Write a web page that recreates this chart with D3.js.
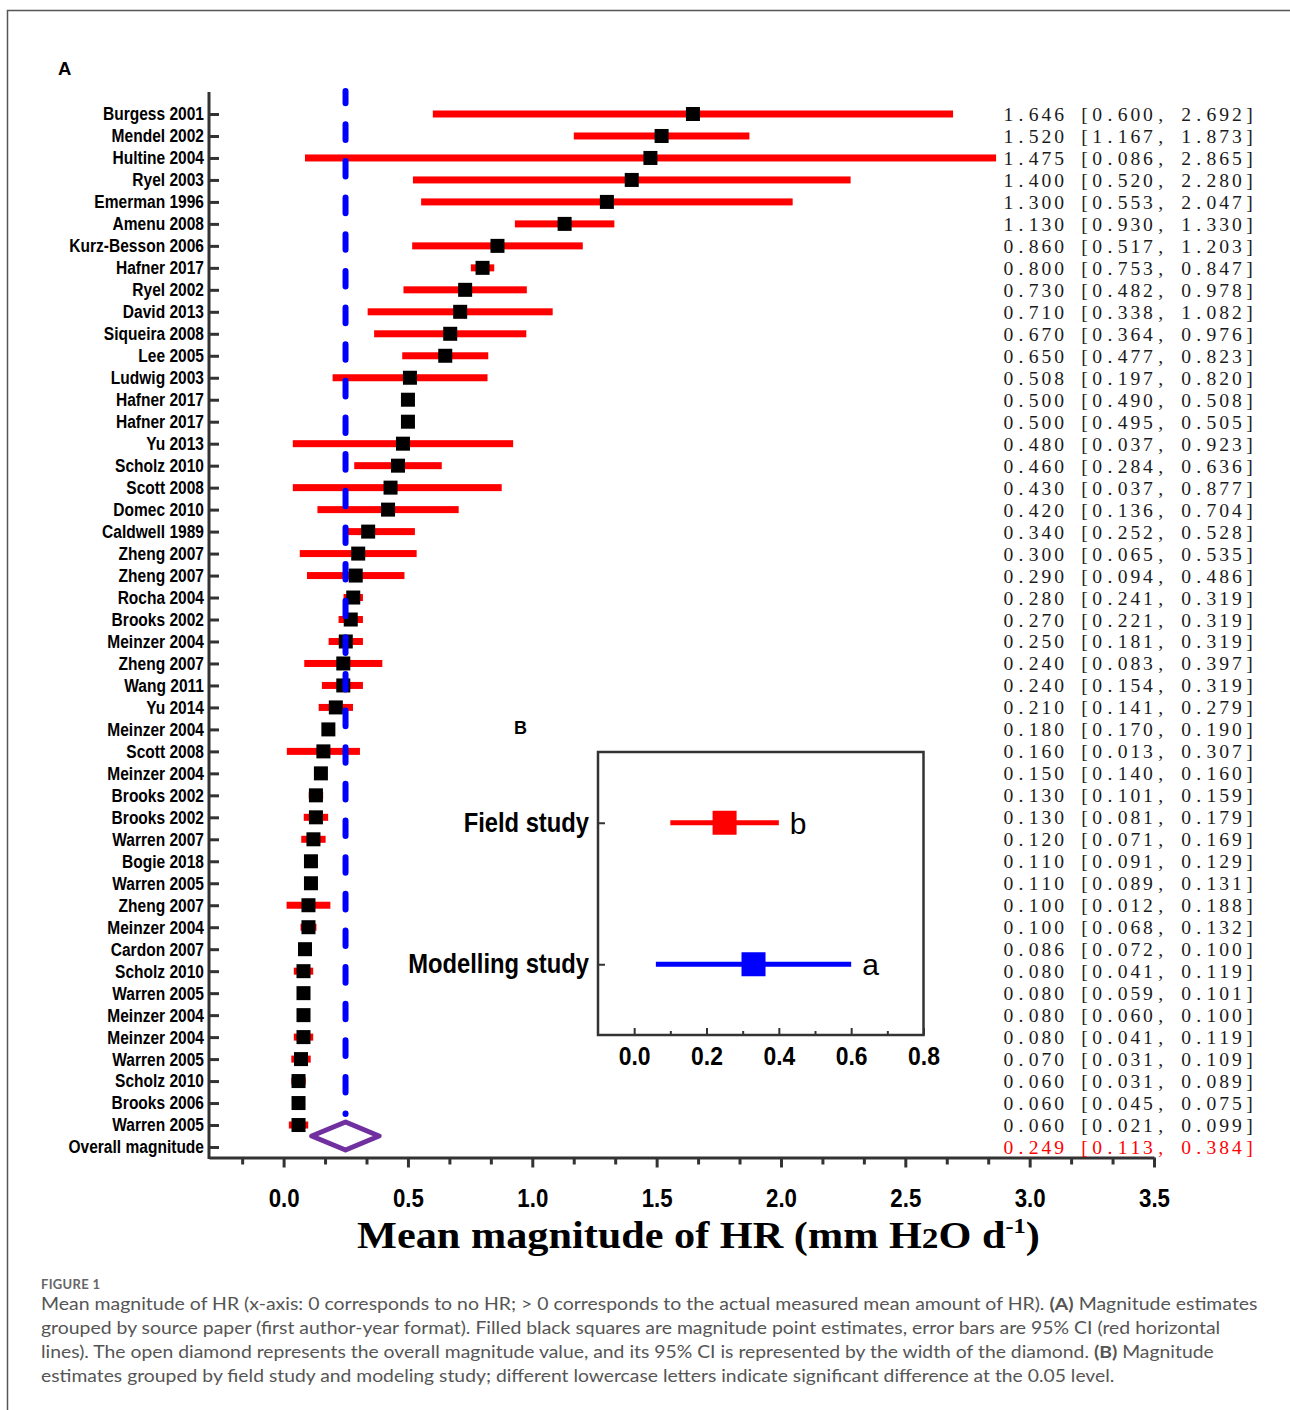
<!DOCTYPE html>
<html>
<head>
<meta charset="utf-8">
<script src="https://cdn.jsdelivr.net/npm/d3@7"></script>
<style>
  body { margin: 0; background: #fff; }
  svg { display: block; }
</style>
</head>
<body>
<svg id="fig" width="1290" height="1410"></svg>
<script>
// ---- panel A data (studies, top to bottom) ----
const studies = ["Burgess 2001", "Mendel 2002", "Hultine 2004", "Ryel 2003", "Emerman 1996", "Amenu 2008",
  "Kurz-Besson 2006", "Hafner 2017", "Ryel 2002", "David 2013", "Siqueira 2008", "Lee 2005", "Ludwig 2003",
  "Hafner 2017", "Hafner 2017", "Yu 2013", "Scholz 2010", "Scott 2008", "Domec 2010", "Caldwell 1989",
  "Zheng 2007", "Zheng 2007", "Rocha 2004", "Brooks 2002", "Meinzer 2004", "Zheng 2007", "Wang 2011",
  "Yu 2014", "Meinzer 2004", "Scott 2008", "Meinzer 2004", "Brooks 2002", "Brooks 2002", "Warren 2007",
  "Bogie 2018", "Warren 2005", "Zheng 2007", "Meinzer 2004", "Cardon 2007", "Scholz 2010", "Warren 2005",
  "Meinzer 2004", "Meinzer 2004", "Warren 2005", "Scholz 2010", "Brooks 2006", "Warren 2005"];
const means = [1.646, 1.520, 1.475, 1.400, 1.300, 1.130, 0.860, 0.800, 0.730, 0.710, 0.670, 0.650, 0.508,
  0.500, 0.500, 0.480, 0.460, 0.430, 0.420, 0.340, 0.300, 0.290, 0.280, 0.270, 0.250, 0.240, 0.240, 0.210,
  0.180, 0.160, 0.150, 0.130, 0.130, 0.120, 0.110, 0.110, 0.100, 0.100, 0.086, 0.080, 0.080, 0.080, 0.080,
  0.070, 0.060, 0.060, 0.060];
const lower = [0.600, 1.167, 0.086, 0.520, 0.553, 0.930, 0.517, 0.753, 0.482, 0.338, 0.364, 0.477, 0.197,
  0.490, 0.495, 0.037, 0.284, 0.037, 0.136, 0.252, 0.065, 0.094, 0.241, 0.221, 0.181, 0.083, 0.154, 0.141,
  0.170, 0.013, 0.140, 0.101, 0.081, 0.071, 0.091, 0.089, 0.012, 0.068, 0.072, 0.041, 0.059, 0.060, 0.041,
  0.031, 0.031, 0.045, 0.021];
const upper = [2.692, 1.873, 2.865, 2.280, 2.047, 1.330, 1.203, 0.847, 0.978, 1.082, 0.976, 0.823, 0.820,
  0.508, 0.505, 0.923, 0.636, 0.877, 0.704, 0.528, 0.535, 0.486, 0.319, 0.319, 0.319, 0.397, 0.319, 0.279,
  0.190, 0.307, 0.160, 0.159, 0.179, 0.169, 0.129, 0.131, 0.188, 0.132, 0.100, 0.119, 0.101, 0.100, 0.119,
  0.109, 0.089, 0.075, 0.099];
const overallLabel = "Overall magnitude";
const overallMean = 0.249, overallLower = 0.113, overallUpper = 0.384;
const xTicksA = [0, 0.5, 1.0, 1.5, 2.0, 2.5, 3.0, 3.5];

// ---- panel B data ----
const groupLabels = ["Field study", "Modelling study"];
const groupMeans = [0.25, 0.33];
const groupLower = [0.10, 0.06];
const groupUpper = [0.40, 0.60];
const groupLetters = ["b", "a"];
const groupColors = ["#ff0000", "#0000ff"];
const xTicksB = [0, 0.2, 0.4, 0.6, 0.8];

const svg = d3.select("#fig");
const AX = "#333";
const SANS = "'Liberation Sans', Arial, sans-serif";
const SERIF = "'Liberation Serif', 'Times New Roman', serif";
const SQZ = 0.84; // narrow-font look

// page frame
svg.append("path").attr("d", "M7.5,1410V10.5H1290")
  .attr("fill", "none").attr("stroke", "#555").attr("stroke-width", 1.5);

// ================= panel A =================
const rows = studies.concat([overallLabel]);
const idx = d3.range(rows.length);
const x = d3.scaleLinear().domain([-0.3, 3.5]).range([209, 1154]);
const y = d3.scalePoint().domain(idx).range([114, 1147]);
const si = d3.range(studies.length);

svg.append("text").attr("x", 58).attr("y", 75).text("A")
  .attr("font-family", SANS).attr("font-weight", "bold").attr("font-size", 18.5);

// error bars
svg.append("g").selectAll("rect").data(si).join("rect")
  .attr("x", i => x(lower[i])).attr("width", i => x(upper[i]) - x(lower[i]))
  .attr("y", i => y(i) - 3.5).attr("height", 7).attr("fill", "#ff0000");

// point estimates
svg.append("g").selectAll("rect").data(si).join("rect")
  .attr("x", i => x(means[i]) - 7).attr("y", i => y(i) - 7)
  .attr("width", 14).attr("height", 14).attr("fill", "#000");

// overall reference line
svg.append("line")
  .attr("x1", x(overallMean)).attr("x2", x(overallMean))
  .attr("y1", y(0) - 23).attr("y2", y(rows.length - 1) - 33)
  .attr("stroke", "#0000ff").attr("stroke-width", 6).attr("stroke-linecap", "round")
  .attr("stroke-dasharray", "15.6 21.04").attr("stroke-dashoffset", 3.3);

// overall diamond
const yc = y(rows.length - 1) - y.step() / 2;
svg.append("path")
  .attr("d", `M${x(overallLower)},${yc}L${x(overallMean)},${yc - 14}L${x(overallUpper)},${yc}L${x(overallMean)},${yc + 14}Z`)
  .attr("fill", "none").attr("stroke", "#7030a0").attr("stroke-width", 5).attr("stroke-linejoin", "round");

// y axis
const gy = svg.append("g").attr("transform", "translate(209,0)")
  .call(d3.axisLeft(y).tickSize(-10).tickPadding(5).tickFormat(i => rows[i]));
gy.select(".domain").remove();
gy.selectAll(".tick line").attr("stroke", AX).attr("stroke-width", 3);
gy.selectAll(".tick text")
  .attr("font-family", SANS).attr("font-weight", "bold").attr("font-size", 18.5).attr("fill", "#000")
  .attr("transform", `scale(${SQZ},1)`).attr("x", -5 / SQZ);
svg.append("line").attr("x1", 209).attr("x2", 209).attr("y1", 92).attr("y2", 1159)
  .attr("stroke", AX).attr("stroke-width", 3);

// x axis
const gx = svg.append("g").attr("transform", "translate(0,1157.5)")
  .call(d3.axisBottom(x).tickValues(xTicksA).tickSize(10).tickSizeOuter(0).tickPadding(20.5)
    .tickFormat(d3.format(".1f")));
gx.select(".domain").attr("stroke", AX).attr("stroke-width", 3);
gx.selectAll(".tick line").attr("stroke", AX).attr("stroke-width", 3);
gx.selectAll(".tick text")
  .attr("font-family", SANS).attr("font-weight", "bold").attr("font-size", 26.5).attr("fill", "#000")
  .attr("transform", `scale(${SQZ},1)`);
const minorA = d3.range(-1, 21).filter(k => k % 3 !== 0).map(k => k / 6);
const gxm = svg.append("g").attr("transform", "translate(0,1157.5)")
  .call(d3.axisBottom(x).tickValues(minorA).tickSize(7).tickFormat(""));
gxm.select(".domain").remove();
gxm.selectAll(".tick line").attr("stroke", AX).attr("stroke-width", 3);

// axis title (stretched to the reference width)
const title = svg.append("text").attr("x", 0).attr("y", 0).attr("text-anchor", "middle")
  .attr("font-family", SERIF).attr("font-weight", "bold")
  .attr("font-size", 38).attr("fill", "#000");
title.append("tspan").text("Mean magnitude of HR (mm H");
title.append("tspan").attr("font-size", 30).text("2");
title.append("tspan").text("O d");
title.append("tspan").attr("font-size", 22).attr("dy", -15).text("-1");
title.append("tspan").attr("dy", 15).text(")");
const tw = title.node().getBBox().width;
title.attr("transform", `translate(698.5,1248) scale(${683 / tw},1)`);

// estimate column text (fixed character grid)
const f3 = d3.format(".3f");
const estText = rows.map((r, i) => i < studies.length
  ? `${f3(means[i])} [${f3(lower[i])}, ${f3(upper[i])}]`
  : `${f3(overallMean)} [${f3(overallLower)}, ${f3(overallUpper)}]`);
svg.append("g").selectAll("text").data(idx).join("text")
  .attr("x", i => estText[i].split("").map((c, k) => (1008.3 + k * 12.7).toFixed(1)).join(" "))
  .attr("y", i => y(i) + 7)
  .attr("text-anchor", "middle")
  .attr("font-family", SERIF).attr("font-size", 19.6)
  .attr("fill", i => i < studies.length ? "#1a1a1a" : "#ff0000")
  .text(i => estText[i]);

// ================= panel B =================
const bx = d3.scaleLinear().domain([-0.1, 0.8]).range([598, 923.5]);
const by = d3.scalePoint().domain(groupLabels).range([752, 1035]).padding(0.5);

svg.append("text").attr("x", 514).attr("y", 733.5).text("B")
  .attr("font-family", SANS).attr("font-weight", "bold").attr("font-size", 18);

svg.append("rect").attr("x", 598).attr("y", 752).attr("width", 325.5).attr("height", 283)
  .attr("fill", "none").attr("stroke", AX).attr("stroke-width", 2.5);

const gb = d3.range(groupLabels.length);
svg.append("g").selectAll("rect").data(gb).join("rect")
  .attr("x", i => bx(groupLower[i])).attr("width", i => bx(groupUpper[i]) - bx(groupLower[i]))
  .attr("y", i => by(groupLabels[i]) - 2.5).attr("height", 5).attr("fill", i => groupColors[i]);
svg.append("g").selectAll("rect").data(gb).join("rect")
  .attr("x", i => bx(groupMeans[i]) - 12).attr("y", i => by(groupLabels[i]) - 12)
  .attr("width", 24).attr("height", 24).attr("fill", i => groupColors[i]);
svg.append("g").selectAll("text").data(gb).join("text")
  .attr("x", i => bx(groupUpper[i]) + 11).attr("y", i => by(groupLabels[i]) + 10.8)
  .attr("font-family", SANS).attr("font-size", 30).attr("fill", "#000")
  .text(i => groupLetters[i]);

const gby = svg.append("g").attr("transform", "translate(598,0)")
  .call(d3.axisLeft(by).tickSize(-7).tickPadding(9));
gby.select(".domain").remove();
gby.selectAll(".tick line").attr("stroke", AX).attr("stroke-width", 2);
gby.selectAll(".tick text")
  .attr("font-family", SANS).attr("font-weight", "bold").attr("font-size", 27).attr("fill", "#000")
  .attr("transform", "scale(0.88,1)").attr("x", -9 / 0.88);

const gbx = svg.append("g").attr("transform", "translate(0,1035)")
  .call(d3.axisBottom(bx).tickValues(xTicksB).tickSize(-7).tickPadding(11.7).tickFormat(d3.format(".1f")));
gbx.select(".domain").remove();
gbx.selectAll(".tick line").attr("stroke", AX).attr("stroke-width", 2);
gbx.selectAll(".tick text")
  .attr("font-family", SANS).attr("font-weight", "bold").attr("font-size", 26).attr("fill", "#000")
  .attr("transform", "scale(0.88,1)");
const gbm = svg.append("g").attr("transform", "translate(0,1035)")
  .call(d3.axisBottom(bx).tickValues([0.1, 0.3, 0.5, 0.7]).tickSize(-4).tickFormat(""));
gbm.select(".domain").remove();
gbm.selectAll(".tick line").attr("stroke", AX).attr("stroke-width", 2);

// ================= caption =================
svg.append("text").attr("x", 41).attr("y", 1289).text("FIGURE 1")
  .attr("font-family", "Lato, 'Open Sans', sans-serif").attr("font-weight", "bold")
  .attr("font-size", 13).attr("letter-spacing", 0.3).attr("fill", "#666");

const capLines = [
  [["Mean magnitude of HR (x-axis: 0 corresponds to no HR; > 0 corresponds to the actual measured mean amount of HR). ", false], ["(A)", true], [" Magnitude estimates", false]],
  [["grouped by source paper (first author-year format). Filled black squares are magnitude point estimates, error bars are 95% CI (red horizontal", false]],
  [["lines). The open diamond represents the overall magnitude value, and its 95% CI is represented by the width of the diamond. ", false], ["(B)", true], [" Magnitude", false]],
  [["estimates grouped by field study and modeling study; different lowercase letters indicate significant difference at the 0.05 level.", false]]
];
const capWidths = [1217, 1180, 1173, 1074];
capLines.forEach((parts, li) => {
  const t = svg.append("text").attr("x", 0).attr("y", 0)
    .attr("font-family", "Lato, 'Open Sans', sans-serif").attr("font-size", 17.5).attr("fill", "#555")
    .attr("xml:space", "preserve");
  parts.forEach(p => t.append("tspan").attr("font-weight", p[1] ? "bold" : "normal").text(p[0]));
  const w = t.node().getComputedTextLength();
  t.attr("transform", `translate(41,${1310 + li * 24}) scale(${capWidths[li] / w},1)`);
});
</script>
</body>
</html>
